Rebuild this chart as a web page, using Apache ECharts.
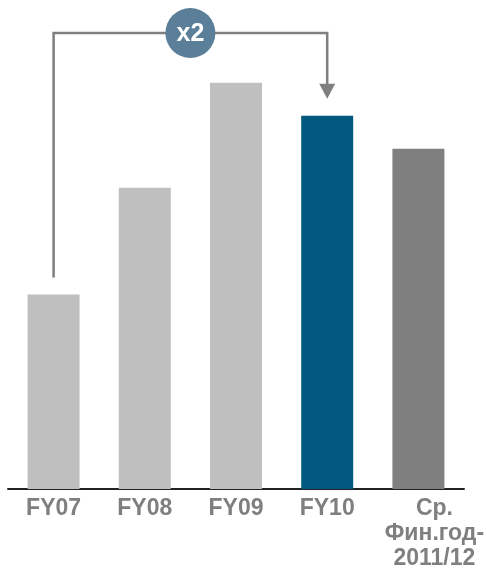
<!DOCTYPE html>
<html>
<head>
<meta charset="utf-8">
<script src="https://cdn.jsdelivr.net/npm/echarts@6/dist/echarts.min.js"></script>
<style>
  html, body { margin: 0; padding: 0; background: #fff; }
  #main { width: 487px; height: 570px; }
</style>
</head>
<body>
<div id="main"></div>
<script>
// data (FY07 = 100)
var categories = ['FY07', 'FY08', 'FY09', 'FY10', 'Ср.\nФин.год-\n2011/12'];
var values = [100, 155, 209, 192, 175];
var barColors = ['#bfbfbf', '#bfbfbf', '#bfbfbf', '#00587f', '#7f7f7f'];
var ratioText = 'x2';

var chart = echarts.init(document.getElementById('main'));

var labelFont = { fontFamily: 'Liberation Sans, Arial, sans-serif', fontWeight: 'bold', fontSize: 23, color: '#7f7f7f', lineHeight: 25 };

chart.setOption({
    animation: false,
    grid: { left: 8, right: 23, top: 3, bottom: 81, outerBoundsMode: 'none', containLabel: false },
    xAxis: {
        type: 'category',
        data: categories,
        axisLine: { lineStyle: { color: '#222', width: 2 } },
        axisTick: { show: false },
        axisLabel: Object.assign({
            interval: 0,
            margin: 7,
            hideOverlap: false,
            formatter: function (v) {
                if (v.indexOf('\n') < 0) return v;
                // last label sits a bit right of its bar
                return v.split('\n').map(function (s) { return '{d|' + s + '}'; }).join('\n');
            },
            rich: {
                d: Object.assign({ padding: [0, 0, 0, 32] }, labelFont)
            }
        }, labelFont)
    },
    yAxis: {
        type: 'value',
        min: 0,
        max: 250,
        show: false,
        splitLine: { show: false }
    },
    series: [{
        type: 'bar',
        barWidth: 52,
        data: values.map(function (v, i) {
            return { value: v, itemStyle: { color: barColors[i] } };
        })
    }]
});

// bracket from FY07 to FY10 with the ratio badge
var pA = chart.convertToPixel({ gridIndex: 0 }, [0, values[0]]);
var pB = chart.convertToPixel({ gridIndex: 0 }, [3, values[3]]);
var topY = 33;
var gap = 17;
var midX = (pA[0] + pB[0]) / 2;
var lineColor = '#7f7f7f';

chart.setOption({
    graphic: [
        {
            type: 'polyline',
            shape: { points: [[pA[0], pA[1] - gap], [pA[0], topY], [pB[0], topY], [pB[0], pB[1] - gap - 14]] },
            style: { stroke: lineColor, lineWidth: 2.5, fill: null }
        },
        {
            type: 'polygon',
            shape: { points: [[pB[0] - 8, pB[1] - gap - 15], [pB[0] + 8, pB[1] - gap - 15], [pB[0], pB[1] - gap]] },
            style: { fill: lineColor }
        },
        {
            type: 'circle',
            shape: { cx: midX, cy: topY, r: 25 },
            style: { fill: '#5b7f99' }
        },
        {
            type: 'text',
            x: midX,
            y: topY + 1,
            style: {
                text: ratioText,
                fill: '#fff',
                font: 'bold 25px "Liberation Sans", Arial, sans-serif',
                align: 'center',
                verticalAlign: 'middle'
            }
        }
    ]
});
</script>
</body>
</html>
